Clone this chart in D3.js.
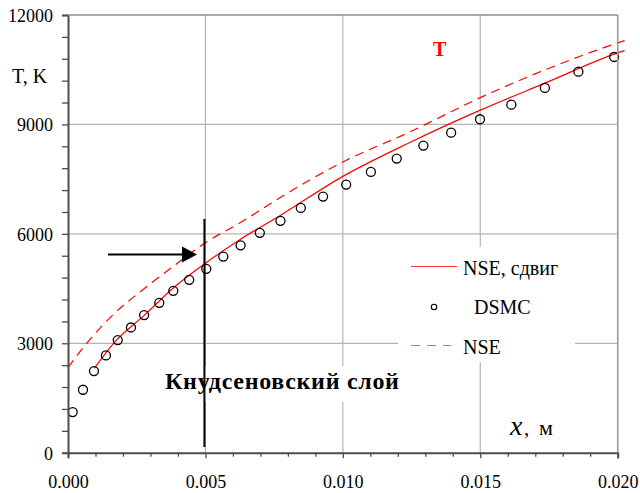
<!DOCTYPE html>
<html>
<head>
<meta charset="utf-8">
<script src="https://cdn.jsdelivr.net/npm/d3@7"></script>
<style>
  html, body { margin: 0; padding: 0; background: #fff; }
  svg { display: block; font-family: "Liberation Serif", "Times New Roman", "DejaVu Serif", serif; }
</style>
</head>
<body>
<svg id="chart" width="640" height="493"></svg>
<script>
// ---- data ----
const xDSMC = [0.00017,0.000545,0.000945,0.00138,0.00181,0.00229,0.00277,0.00332,0.00383,0.00441,0.00503,0.00565,0.00628,0.00698,0.00773,0.00847,0.00928,0.01012,0.01102,0.01196,0.01293,0.01394,0.01499,0.01613,0.01735,0.01857,0.01987];
const tDSMC = [1115,1726,2238,2666,3088,3433,3773,4110,4438,4740,5041,5378,5685,6027,6356,6712,7022,7351,7699,8063,8419,8775,9142,9542,10000,10447,10849];

const xShift = [0.000964,0.00165,0.0028,0.00383,0.005,0.00625,0.00771,0.010,0.0124,0.015,0.01735,0.020,0.02025];
const tShift = [2317,2989,3784,4516,5196,5840,6499,7576,8491,9391,10131,10960,11023];

const xNSE = [0,0.00068,0.00165,0.0028,0.00383,0.005,0.00625,0.00771,0.010,0.0124,0.015,0.020,0.02025];
const tNSE = [2331,3000,3790,4514,5110,5758,6298,6990,7971,8780,9734,11234,11297];

const xMajorTicks = [0,0.005,0.010,0.015,0.020];
const yMajorTicks = [0,3000,6000,9000,12000];
const legendLabels = ["NSE, сдвиг","DSMC","NSE"];
const knudsenX = 0.005;

// ---- layout ----
const svg = d3.select("#chart");
const x = d3.scaleLinear().domain([0,0.02]).range([68,617.7]);
const y = d3.scaleLinear().domain([0,12000]).range([452.7,15]);
const gridColor = "#b4b4b4";
const axisColor = "#4d4d4d";

// grid
const grid = svg.append("g");
grid.selectAll("line.h").data(yMajorTicks.filter(d=>d>0)).join("line")
  .attr("x1", x(0)).attr("x2", x(0.02))
  .attr("y1", d=>y(d)).attr("y2", d=>y(d))
  .attr("stroke", gridColor).attr("stroke-width", 1.2);
grid.selectAll("line.v").data(xMajorTicks.filter(d=>d>0)).join("line")
  .attr("x1", d=>x(d)).attr("x2", d=>x(d))
  .attr("y1", y(12000)).attr("y2", y(0))
  .attr("stroke", gridColor).attr("stroke-width", 1.2);

// white boxes (text and legend)
svg.append("rect").attr("x",162).attr("y",366).attr("width",238).attr("height",36).attr("fill","#fff");
svg.append("rect").attr("x",398).attr("y",247).attr("width",177).attr("height",115).attr("fill","#fff");

// lines
const lineGen = d3.line().x(d=>x(d[0])).y(d=>y(d[1])).curve(d3.curveMonotoneX);
svg.append("path").datum(xNSE.map((v,i)=>[v,tNSE[i]]))
  .attr("d", lineGen).attr("fill","none").attr("stroke","#ff0000")
  .attr("stroke-width",1.2).attr("stroke-dasharray","9,6");
svg.append("path").datum(xShift.map((v,i)=>[v,tShift[i]]))
  .attr("d", lineGen).attr("fill","none").attr("stroke","#ff0000")
  .attr("stroke-width",1.2);

// circles
svg.append("g").selectAll("circle").data(xDSMC.map((v,i)=>[v,tDSMC[i]])).join("circle")
  .attr("cx", d=>x(d[0])).attr("cy", d=>y(d[1])).attr("r", 4.5)
  .attr("fill","none").attr("stroke","#000").attr("stroke-width",1.3);

// axes
const yAxis = d3.axisLeft(y).tickValues(d3.range(0,12001,600)).tickSize(6).tickPadding(9)
  .tickFormat(d => d % 3000 === 0 ? String(d) : "");
const gy = svg.append("g").attr("transform",`translate(${x(0)},0)`).call(yAxis);
gy.select(".domain").attr("stroke",axisColor).attr("stroke-width",2);
gy.selectAll(".tick line").attr("stroke",axisColor).attr("stroke-width",1.3);
gy.selectAll(".tick text").attr("font-family","Liberation Serif").attr("font-size",18)
  .attr("fill","#000").attr("dy","0.35em");

const xAxis = d3.axisBottom(x).tickValues(d3.range(0,21).map(i=>i*0.001)).tickSize(5.5).tickPadding(0)
  .tickFormat((d,i) => i % 5 === 0 ? d3.format(".3f")(d) : "");
const gx = svg.append("g").attr("transform",`translate(0,${y(0)})`).call(xAxis);
gx.select(".domain").attr("stroke",axisColor).attr("stroke-width",2);
gx.selectAll(".tick line").attr("stroke",axisColor).attr("stroke-width",1.3)
  .attr("y2",(d,i)=> i % 5 === 0 ? 5.5 : 4);
gx.selectAll(".tick text").attr("font-family","Liberation Serif").attr("font-size",18)
  .attr("fill","#000").attr("y",35.3).attr("dy",0);

// top & right borders
svg.append("line").attr("x1",x(0)).attr("x2",x(0.02)).attr("y1",y(12000)).attr("y2",y(12000))
  .attr("stroke","#9a9a9a").attr("stroke-width",1.5);
svg.append("line").attr("x1",x(0.02)).attr("x2",x(0.02)).attr("y1",y(12000)).attr("y2",y(0))
  .attr("stroke","#9a9a9a").attr("stroke-width",1.5);

// Knudsen layer vertical line
svg.append("line").attr("x1",x(knudsenX)-1).attr("x2",x(knudsenX)-1).attr("y1",219).attr("y2",447)
  .attr("stroke","#000").attr("stroke-width",2);

// arrow
svg.append("line").attr("x1",108).attr("x2",184).attr("y1",254.5).attr("y2",254.5)
  .attr("stroke","#000").attr("stroke-width",2);
svg.append("path").attr("d","M182,246.5 L197,254.5 L182,262.5 Z").attr("fill","#000");

// texts
svg.append("text").attr("x",12).attr("y",83).attr("font-size",20).text("T, K");
svg.append("text").attr("x",433).attr("y",56).attr("font-size",20).attr("font-weight","bold")
  .attr("fill","#ff0000").text("T");
svg.append("text").attr("x",165).attr("y",388.5).attr("font-size",24).attr("font-weight","bold")
  .attr("letter-spacing",0.7).text("Кнудсеновский слой");
const xl = svg.append("text").attr("y",435);
xl.append("tspan").attr("x",510).attr("font-style","italic").attr("font-size",28).text("x");
xl.append("tspan").attr("x",524).attr("font-size",21).text(",");
xl.append("tspan").attr("x",539).attr("font-size",22).text("м");

// legend
const lg = svg.append("g");
lg.append("line").attr("x1",411).attr("x2",457).attr("y1",266.5).attr("y2",266.5)
  .attr("stroke","#ff3030").attr("stroke-width",1.2);
lg.append("text").attr("x",463).attr("y",275).attr("font-size",20).text(legendLabels[0]);
lg.append("circle").attr("cx",434).attr("cy",307).attr("r",2.7)
  .attr("fill","none").attr("stroke","#000").attr("stroke-width",1.1);
lg.append("text").attr("x",474).attr("y",314).attr("font-size",20).text(legendLabels[1]);
lg.append("line").attr("x1",411).attr("x2",451).attr("y1",345.5).attr("y2",345.5)
  .attr("stroke","#ff6060").attr("stroke-width",1.2).attr("stroke-dasharray","9,7");
lg.append("text").attr("x",463).attr("y",354).attr("font-size",20).text(legendLabels[2]);
</script>
</body>
</html>
